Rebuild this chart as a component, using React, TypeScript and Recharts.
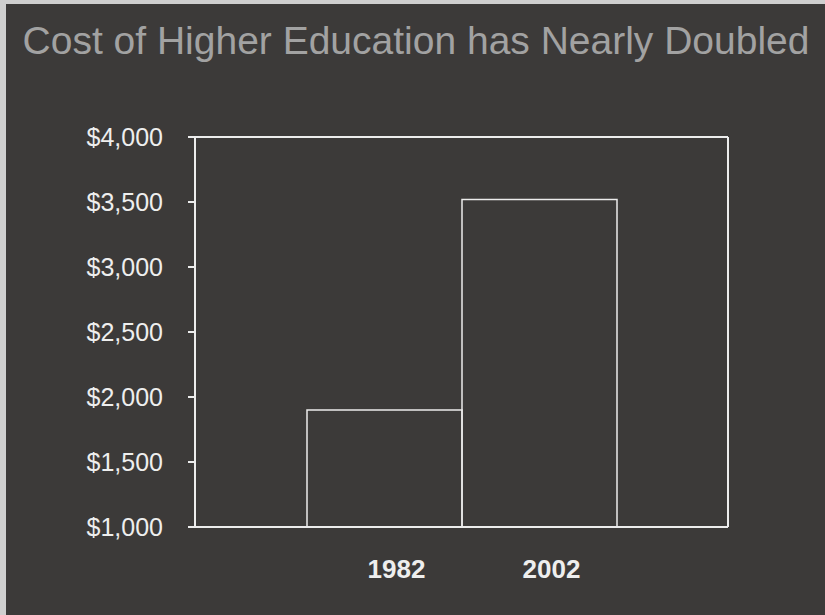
import { BarChart, Bar, XAxis, YAxis } from "recharts";

const COLORS = {
  bg: "#3c3a39",
  edge: "#cfcfcf",
  line: "#ececec",
  text: "#eeeeee",
  title: "#a2a2a2",
};

const years = ["1982", "2002"];
const costs = [1900, 3520];
const yTicks = [1000, 1500, 2000, 2500, 3000, 3500, 4000];

const data = years.map((year, i) => ({ year, cost: costs[i] }));

const fmtDollar = (v: number) => "$" + v.toLocaleString("en-US");

function YearTick({ x, y, payload }: { x?: number; y?: number; payload?: { value: string } }) {
  return (
    <text
      x={(x ?? 0) + 12}
      y={y}
      dy="0.71em"
      textAnchor="middle"
      fill={COLORS.text}
      fontSize={26}
      fontWeight={700}
      fontFamily="'Liberation Sans', Arial, sans-serif"
    >
      {payload?.value}
    </text>
  );
}

export default function App() {
  return (
    <div
      style={{
        position: "fixed",
        left: 0,
        top: 0,
        width: 825,
        height: 615,
        background: COLORS.bg,
        overflow: "hidden",
      }}
    >
      {/* light scan edge along top and left */}
      <div style={{ position: "absolute", left: 0, top: 0, width: 825, height: 4, background: COLORS.edge }} />
      <div style={{ position: "absolute", left: 0, top: 0, width: 6, height: 615, background: COLORS.edge }} />
      <div
        style={{
          position: "absolute",
          left: 0,
          top: 18,
          width: 832,
          textAlign: "center",
          fontFamily: "'Liberation Sans', Arial, sans-serif",
          fontSize: 39,
          lineHeight: "46px",
          color: COLORS.title,
          whiteSpace: "nowrap",
        }}
      >
        Cost of Higher Education has Nearly Doubled
      </div>
      <BarChart
        width={825}
        height={615}
        data={data}
        margin={{ top: 136, right: 96, left: 0, bottom: 0 }}
        barCategoryGap={0}
      >
        <XAxis
          dataKey="year"
          height={88}
          padding={{ left: 112, right: 111 }}
          stroke={COLORS.line}
          strokeWidth={2}
          tickLine={false}
          tickSize={0}
          tickMargin={33}
          tick={<YearTick />}
        />
        <XAxis
          xAxisId="top"
          dataKey="year"
          orientation="top"
          height={1}
          tick={false}
          tickLine={false}
          stroke={COLORS.line}
          strokeWidth={2}
        />
        <YAxis
          width={195}
          domain={[1000, 4000]}
          ticks={yTicks}
          allowDataOverflow
          tickFormatter={fmtDollar}
          stroke={COLORS.line}
          strokeWidth={2}
          tickSize={7}
          tickMargin={25}
          tick={{ fill: COLORS.text, fontSize: 25, fontFamily: "'Liberation Sans', Arial, sans-serif" }}
        />
        <YAxis
          yAxisId="right"
          orientation="right"
          width={1}
          domain={[1000, 4000]}
          tick={false}
          tickLine={false}
          stroke={COLORS.line}
          strokeWidth={2}
        />
        <Bar dataKey="cost" fill="none" stroke={COLORS.line} strokeWidth={1.5} isAnimationActive={false} />
      </BarChart>
    </div>
  );
}
